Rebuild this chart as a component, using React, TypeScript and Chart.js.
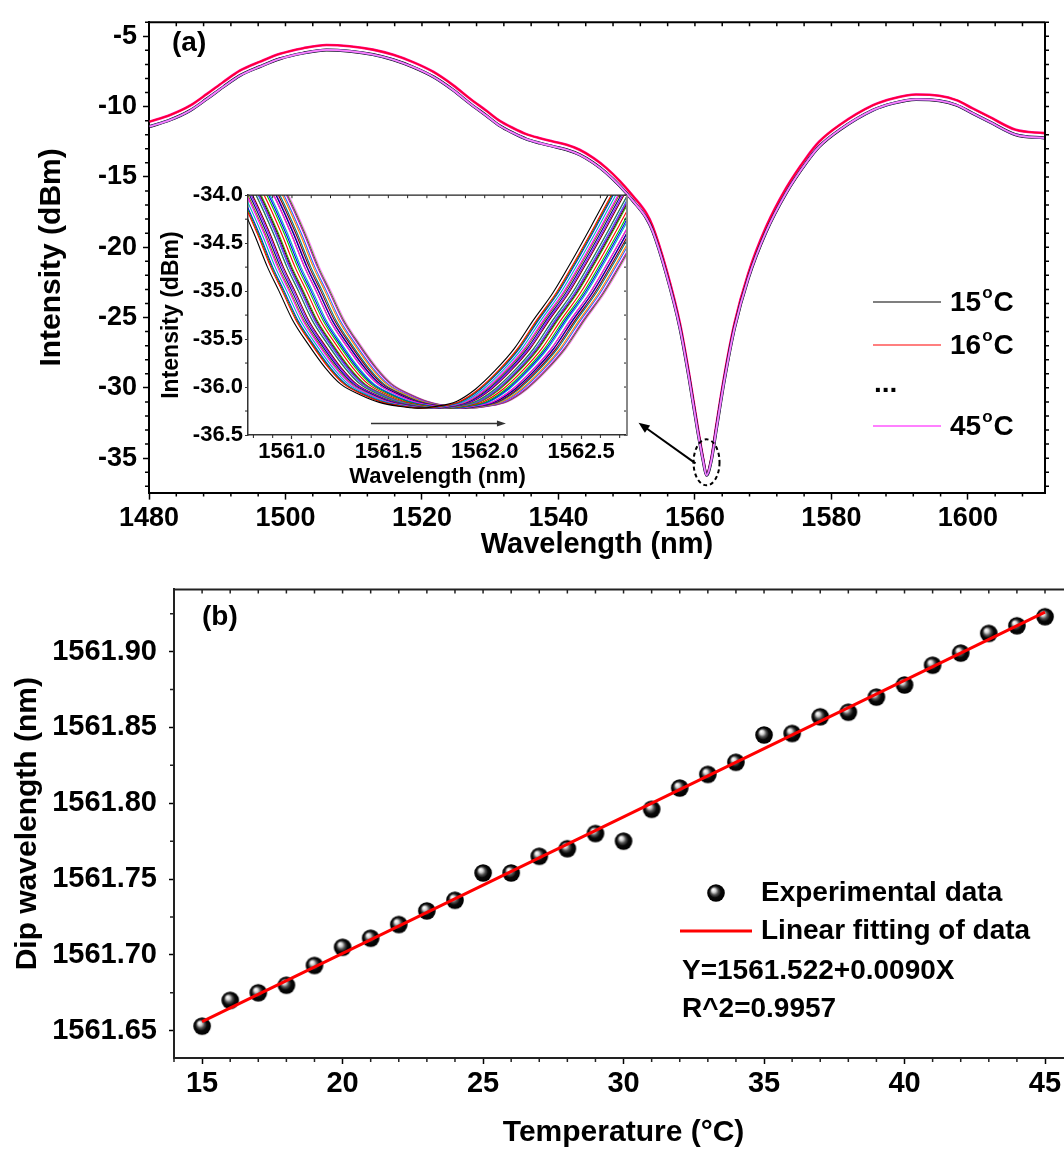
import React, { useEffect, useRef } from 'react';
import { Chart, registerables } from 'chart.js';

Chart.register(...registerables);

const FONT = '"Liberation Sans", Arial, Helvetica, sans-serif';

// ---------------- (a) main spectra ----------------
const mainWavelength = [1480.1, 1483.1, 1486.0, 1488.5, 1490.9, 1493.3, 1496.3, 1499.2, 1502.6, 1506.0, 1509.4, 1512.8, 1515.8, 1518.7, 1521.7, 1524.6, 1527.0, 1529.5, 1531.4, 1533.4, 1535.3, 1537.3, 1539.2, 1541.2, 1543.1, 1545.1, 1547.0, 1549.0, 1550.9, 1552.9, 1553.8, 1555.8, 1557.8, 1559.2, 1560.4, 1561.2, 1561.7, 1562.4, 1563.1, 1564.3, 1565.8, 1567.8, 1570.4, 1573.4, 1576.3, 1578.2, 1581.2, 1586.1, 1589.0, 1592.4, 1595.8, 1598.3, 1600.7, 1603.1, 1607.0, 1611.2];
const mainLowerDbm = [-11.42, -10.95, -10.29, -9.45, -8.60, -7.80, -7.15, -6.60, -6.20, -5.97, -6.06, -6.30, -6.67, -7.19, -7.89, -8.84, -9.77, -10.67, -11.37, -11.89, -12.31, -12.60, -12.83, -13.07, -13.42, -14.00, -14.71, -15.65, -16.70, -17.95, -18.85, -21.90, -25.76, -29.50, -33.07, -35.18, -36.22, -35.18, -33.07, -29.50, -25.76, -22.24, -18.94, -16.12, -14.00, -12.85, -11.66, -10.25, -9.77, -9.49, -9.58, -9.89, -10.48, -11.07, -12.00, -12.24];
const mainUpperDbm = [-11.07, -10.60, -9.94, -9.10, -8.25, -7.45, -6.80, -6.25, -5.85, -5.62, -5.71, -5.95, -6.32, -6.84, -7.54, -8.49, -9.42, -10.32, -11.02, -11.54, -11.96, -12.25, -12.48, -12.72, -13.07, -13.65, -14.36, -15.30, -16.35, -17.60, -18.50, -21.55, -25.41, -29.15, -32.77, -35.03, -36.17, -35.03, -32.77, -29.15, -25.41, -21.89, -18.59, -15.77, -13.65, -12.50, -11.31, -9.90, -9.42, -9.14, -9.23, -9.54, -10.13, -10.72, -11.65, -11.89];
const mainTickX = [1480, 1500, 1520, 1540, 1560, 1580, 1600];
const mainTickY = [-35, -30, -25, -20, -15, -10, -5];
const legendLabels = ['15', '16', '...', '45'];

// ---------------- temperatures / dips (b) ----------------
const temperatures = [15, 16, 17, 18, 19, 20, 21, 22, 23, 24, 25, 26, 27, 28, 29, 30, 31, 32, 33, 34, 35, 36, 37, 38, 39, 40, 41, 42, 43, 44, 45];
const dipWavelength = [1561.653, 1561.670, 1561.675, 1561.680, 1561.693, 1561.705, 1561.711, 1561.720, 1561.729, 1561.736, 1561.754, 1561.754, 1561.765, 1561.770, 1561.780, 1561.775, 1561.796, 1561.810, 1561.819, 1561.827, 1561.845, 1561.846, 1561.857, 1561.860, 1561.870, 1561.878, 1561.891, 1561.899, 1561.912, 1561.917, 1561.923];
const fitTemperature = [15, 45];
const fitWavelength = [1561.656, 1561.926];
const tempTicks = [15, 20, 25, 30, 35, 40, 45];
const dipTicks = [1561.65, 1561.70, 1561.75, 1561.80, 1561.85, 1561.90];

// ---------------- inset: dip profile around each measured dip ----------------
const insetOffsetNm = [-1.05, -0.94, -0.85, -0.78, -0.72, -0.65, -0.57, -0.48, -0.40, -0.30, -0.20, -0.10, 0.00, 0.10, 0.20, 0.30, 0.40, 0.50, 0.60, 0.70, 0.80, 0.90, 1.00, 1.10];
const insetDbm = [-33.60, -34.00, -34.40, -34.75, -35.00, -35.30, -35.55, -35.80, -35.97, -36.08, -36.16, -36.20, -36.22, -36.20, -36.15, -36.02, -35.83, -35.60, -35.30, -35.02, -34.68, -34.32, -33.95, -33.60];
const insetTickX = [1561.0, 1561.5, 1562.0, 1562.5];
const insetTickY = [-36.5, -36.0, -35.5, -35.0, -34.5, -34.0];

const insetColors = ['#000000', '#ff0000', '#00c000', '#0000ff', '#00b0c0', '#ff00ff', '#808000', '#000080', '#8000ff', '#800000', '#008080', '#ff8000', '#3060ff', '#c000c0', '#40a000', '#000000', '#ff0000', '#00c000', '#0000ff', '#00b0c0', '#ff00ff', '#808000', '#000080', '#8000ff', '#800000', '#008080', '#ff8000', '#3060ff', '#c000c0', '#40a000', '#ff80ff'];

const bold = (size: number) => ({ family: FONT, size, weight: 'bold' as const });

function makeSphere(r: number): HTMLCanvasElement {
  const c = document.createElement('canvas');
  const s = Math.ceil(2 * r + 2);
  c.width = s;
  c.height = s;
  const g = c.getContext('2d')!;
  const grad = g.createRadialGradient(s / 2 - r * 0.32, s / 2 - r * 0.38, r * 0.05, s / 2, s / 2, r);
  grad.addColorStop(0, '#ffffff');
  grad.addColorStop(0.2, '#d0d0d0');
  grad.addColorStop(0.42, '#505050');
  grad.addColorStop(0.65, '#080808');
  grad.addColorStop(1, '#000000');
  g.fillStyle = grad;
  g.beginPath();
  g.arc(s / 2, s / 2, r, 0, Math.PI * 2);
  g.fill();
  return c;
}

interface FrameOpts {
  minorX: number; minorY: number; minorLen: number; mirrorLen: number;
  tickWidth: number; color: string; topOut: boolean; rightOut: boolean;
  frameWidth: number; rightColor?: string; topWidth?: number; drawRight?: boolean;
}

function framePlugin(o: FrameOpts) {
  return {
    id: 'frameTicks',
    afterDraw(chart: any) {
      const { ctx, chartArea: a } = chart;
      const xs = chart.scales.x;
      const ys = chart.scales.y;
      const isMajor = (sc: any, v: number) => sc.ticks.some((t: any) => Math.abs(t.value - v) < 1e-6);
      ctx.save();
      ctx.lineWidth = o.tickWidth;
      ctx.strokeStyle = o.color;
      ctx.beginPath();
      const nx0 = Math.ceil(xs.min / o.minorX - 1e-6);
      const nx1 = Math.floor(xs.max / o.minorX + 1e-6);
      for (let n = nx0; n <= nx1; n++) {
        const v = n * o.minorX;
        const p = xs.getPixelForValue(v);
        if (!isMajor(xs, v)) {
          ctx.moveTo(p, a.bottom);
          ctx.lineTo(p, a.bottom + o.minorLen);
        }
        ctx.moveTo(p, a.top);
        ctx.lineTo(p, a.top + (o.topOut ? -o.mirrorLen : o.mirrorLen));
      }
      const ny0 = Math.ceil(ys.min / o.minorY - 1e-6);
      const ny1 = Math.floor(ys.max / o.minorY + 1e-6);
      for (let n = ny0; n <= ny1; n++) {
        const v = n * o.minorY;
        const p = ys.getPixelForValue(v);
        if (!isMajor(ys, v)) {
          ctx.moveTo(a.left, p);
          ctx.lineTo(a.left - o.minorLen, p);
        }
        if (o.drawRight !== false) {
          ctx.moveTo(a.right, p);
          ctx.lineTo(a.right + (o.rightOut ? o.mirrorLen : -o.mirrorLen), p);
        }
      }
      ctx.stroke();
      ctx.lineWidth = o.topWidth ?? o.frameWidth;
      ctx.strokeStyle = o.color;
      ctx.beginPath();
      ctx.moveTo(a.left, a.top);
      ctx.lineTo(a.right, a.top);
      ctx.stroke();
      if (o.drawRight !== false) {
        ctx.lineWidth = o.frameWidth;
        ctx.strokeStyle = o.rightColor ?? o.color;
        ctx.beginPath();
        ctx.moveTo(a.right, a.top);
        ctx.lineTo(a.right, a.bottom);
        ctx.stroke();
      }
      ctx.restore();
    },
  };
}

function drawArrow(ctx: CanvasRenderingContext2D, x0: number, y0: number, x1: number, y1: number, head: number, half: number, color: string, width: number) {
  const ang = Math.atan2(y1 - y0, x1 - x0);
  ctx.save();
  ctx.strokeStyle = color;
  ctx.fillStyle = color;
  ctx.lineWidth = width;
  ctx.beginPath();
  ctx.moveTo(x0, y0);
  ctx.lineTo(x1 - Math.cos(ang) * head * 0.6, y1 - Math.sin(ang) * head * 0.6);
  ctx.stroke();
  ctx.beginPath();
  ctx.moveTo(x1, y1);
  ctx.lineTo(x1 - Math.cos(ang) * head - Math.sin(ang) * half, y1 - Math.sin(ang) * head + Math.cos(ang) * half);
  ctx.lineTo(x1 - Math.cos(ang) * head + Math.sin(ang) * half, y1 - Math.sin(ang) * head - Math.cos(ang) * half);
  ctx.closePath();
  ctx.fill();
  ctx.restore();
}

function drawDegree(ctx: CanvasRenderingContext2D, num: string, x: number, y: number) {
  ctx.font = `bold 28px ${FONT}`;
  ctx.fillText(num, x, y);
  const w = ctx.measureText(num).width;
  ctx.font = `bold 17px ${FONT}`;
  ctx.fillText('o', x + w + 1, y - 10);
  const w2 = ctx.measureText('o').width;
  ctx.font = `bold 28px ${FONT}`;
  ctx.fillText('C', x + w + w2 + 2, y);
}

const pts = (xs: number[], ys: number[]) => xs.map((x, i) => ({ x, y: ys[i] }));

export default function App() {
  const aRef = useRef<HTMLCanvasElement>(null);
  const iRef = useRef<HTMLCanvasElement>(null);
  const bRef = useRef<HTMLCanvasElement>(null);

  useEffect(() => {
    const charts: Chart[] = [];
    const sphere = makeSphere(8.8);

    // ---------- chart (a) ----------
    const annA = {
      id: 'annA',
      afterDraw(chart: any) {
        const { ctx } = chart;
        const xs = chart.scales.x;
        const ys = chart.scales.y;
        ctx.save();
        ctx.fillStyle = '#000';
        ctx.textAlign = 'left';
        ctx.textBaseline = 'middle';
        ctx.font = `bold 28px ${FONT}`;
        ctx.fillText('(a)', 172, 43);
        const cx = xs.getPixelForValue(1561.7);
        const cy = ys.getPixelForValue(-35.3);
        ctx.setLineDash([4, 3]);
        ctx.lineWidth = 2;
        ctx.strokeStyle = '#000';
        ctx.beginPath();
        ctx.ellipse(cx, cy, 13, 23, 0, 0, Math.PI * 2);
        ctx.stroke();
        ctx.setLineDash([]);
        drawArrow(ctx, xs.getPixelForValue(1560.09), ys.getPixelForValue(-35.37), xs.getPixelForValue(1551.74), ys.getPixelForValue(-32.48), 11, 4.5, '#000', 2);
        const rows = [
          { y: 302, color: '#000000', w: 1.2 },
          { y: 345, color: '#ff0000', w: 1.2 },
          { y: 390, color: '', w: 0 },
          { y: 426, color: '#ff80ff', w: 2 },
        ];
        rows.forEach((r, i) => {
          const lab = legendLabels[i];
          if (lab === '...') {
            ctx.font = `bold 28px ${FONT}`;
            ctx.fillText('...', 874, r.y - 6);
            return;
          }
          ctx.strokeStyle = r.color;
          ctx.lineWidth = r.w;
          ctx.beginPath();
          ctx.moveTo(873, r.y);
          ctx.lineTo(941, r.y);
          ctx.stroke();
          drawDegree(ctx, lab, 950, r.y + 1);
        });
        ctx.restore();
      },
    };

    const lower = pts(mainWavelength, mainLowerDbm);
    const upper = pts(mainWavelength, mainUpperDbm);
    const ca = new Chart(aRef.current!, {
      type: 'line',
      data: {
        datasets: [
          { label: `${temperatures[30]}°C`, data: lower.map((p) => ({ ...p })), borderColor: '#ff80ff', borderWidth: 1.6 },
          { label: `${temperatures[15]}°C`, data: lower.map((p) => ({ ...p })), borderColor: '#7050c0', borderWidth: 2.3 },
          { label: `${temperatures[0]}°C`, data: lower.map((p) => ({ ...p })), borderColor: '#000000', borderWidth: 3.0 },
          { label: `${temperatures[1]}°C`, data: upper.map((p) => ({ ...p })), borderColor: '#ff0030', borderWidth: 1.6 },
          { label: `${temperatures[2]}°C`, data: upper.map((p) => ({ ...p })), borderColor: '#ff00a0', borderWidth: 2.6 },
        ],
      },
      options: {
        responsive: false,
        animation: false,
        devicePixelRatio: 1,
        layout: { padding: { left: 0, top: 18, right: 19, bottom: 0 } },
        plugins: { legend: { display: false }, tooltip: { enabled: false } },
        elements: { point: { radius: 0 }, line: { cubicInterpolationMode: 'monotone' } },
        scales: {
          x: {
            type: 'linear', min: 1480, max: 1611.3,
            afterBuildTicks: (s: any) => { s.ticks = mainTickX.map((v) => ({ value: v })); },
            afterFit: (s: any) => { s.height = 565 - 492.6; },
            grid: { display: true, drawOnChartArea: false, drawTicks: true, tickLength: 7, tickColor: '#000', tickWidth: 1.5 },
            border: { display: true, color: '#000', width: 2 },
            ticks: { font: bold(27), color: '#000', padding: 3, maxRotation: 0, minRotation: 0, autoSkip: false, callback: (v: any) => String(v) },
            title: { display: true, text: 'Wavelength (nm)', font: bold(29), color: '#000', padding: { top: 0, bottom: 2.6 } },
          },
          y: {
            type: 'linear', min: -37.45, max: -4,
            afterBuildTicks: (s: any) => { s.ticks = mainTickY.map((v) => ({ value: v })); },
            afterFit: (s: any) => { s.width = 149; },
            grid: { display: true, drawOnChartArea: false, drawTicks: true, tickLength: 6, tickColor: '#000', tickWidth: 1.5 },
            border: { display: true, color: '#000', width: 2 },
            ticks: { font: bold(27), color: '#000', padding: 6, autoSkip: false, callback: (v: any) => String(v) },
            title: { display: true, text: 'Intensity (dBm)', font: bold(30), color: '#000', padding: { top: 34, bottom: 0 } },
          },
        },
      } as any,
      plugins: [framePlugin({ minorX: 4, minorY: 1, minorLen: 4, mirrorLen: 4, tickWidth: 1.5, color: '#000', topOut: false, rightOut: true, frameWidth: 2 }), annA],
    });
    charts.push(ca);

    // ---------- inset ----------
    const annI = {
      id: 'annI',
      afterDraw(chart: any) {
        const xs = chart.scales.x;
        const ys = chart.scales.y;
        drawArrow(chart.ctx, xs.getPixelForValue(1561.41), ys.getPixelForValue(-36.38), xs.getPixelForValue(1562.11), ys.getPixelForValue(-36.38), 9, 3, '#333', 1.5);
      },
    };
    const ci = new Chart(iRef.current!, {
      type: 'line',
      data: {
        datasets: temperatures.map((t, i) => ({
          label: `${t}°C`,
          data: insetOffsetNm.map((d, k) => ({ x: dipWavelength[i] + d, y: insetDbm[k] })),
          borderColor: insetColors[i],
          borderWidth: 1.1,
        })),
      },
      options: {
        responsive: false,
        animation: false,
        devicePixelRatio: 1,
        layout: { padding: { left: 0, top: 13, right: 23, bottom: 0 } },
        plugins: { legend: { display: false }, tooltip: { enabled: false } },
        elements: { point: { radius: 0 }, line: { cubicInterpolationMode: 'monotone' } },
        scales: {
          x: {
            type: 'linear', min: 1560.772, max: 1562.738,
            afterBuildTicks: (s: any) => { s.ticks = insetTickX.map((v) => ({ value: v })); },
            afterFit: (s: any) => { s.height = 55; },
            grid: { display: true, drawOnChartArea: false, drawTicks: true, tickLength: 4, tickColor: '#333', tickWidth: 1.2 },
            border: { display: true, color: '#333', width: 1.5 },
            ticks: { font: bold(22), color: '#000', padding: 0, maxRotation: 0, minRotation: 0, autoSkip: false, callback: (v: any) => Number(v).toFixed(1) },
            title: { display: true, text: 'Wavelength (nm)', font: bold(22), color: '#000', padding: { top: 0, bottom: 0 } },
          },
          y: {
            type: 'linear', min: -36.5, max: -34.0,
            afterBuildTicks: (s: any) => { s.ticks = insetTickY.map((v) => ({ value: v })); },
            afterFit: (s: any) => { s.width = 98; },
            grid: { display: true, drawOnChartArea: false, drawTicks: true, tickLength: 3, tickColor: '#333', tickWidth: 1.2 },
            border: { display: true, color: '#333', width: 1.5 },
            ticks: { font: bold(22), color: '#000', padding: 2, autoSkip: false, callback: (v: any) => Number(v).toFixed(1) },
            title: { display: true, text: 'Intensity (dBm)', font: bold(23), color: '#000', padding: { top: 8, bottom: 0 } },
          },
        },
      } as any,
      plugins: [framePlugin({ minorX: 0.1, minorY: 0.25, minorLen: 3, mirrorLen: 3, tickWidth: 1, color: '#222', topOut: false, rightOut: false, frameWidth: 2, rightColor: '#888', topWidth: 1.2 }), annI],
    });
    charts.push(ci);

    // ---------- chart (b) ----------
    const annB = {
      id: 'annB',
      afterDraw(chart: any) {
        const { ctx } = chart;
        const off = 560;
        ctx.save();
        ctx.fillStyle = '#000';
        ctx.textAlign = 'left';
        ctx.textBaseline = 'middle';
        ctx.font = `bold 28px ${FONT}`;
        ctx.fillText('(b)', 202, 617 - off);
        ctx.drawImage(sphere, 716 - sphere.width / 2, 893 - off - sphere.height / 2);
        ctx.fillText('Experimental data', 761, 893 - off);
        ctx.strokeStyle = '#ff0000';
        ctx.lineWidth = 3;
        ctx.beginPath();
        ctx.moveTo(680, 931 - off);
        ctx.lineTo(752, 931 - off);
        ctx.stroke();
        ctx.fillText('Linear fitting of data', 761, 931 - off);
        ctx.fillText('Y=1561.522+0.0090X', 682, 971 - off);
        ctx.fillText('R^2=0.9957', 682, 1009 - off);
        ctx.restore();
      },
    };
    const cb = new Chart(bRef.current!, {
      type: 'line',
      data: {
        datasets: [
          {
            label: 'Linear fitting of data',
            data: pts(fitTemperature, fitWavelength),
            borderColor: '#ff0000',
            borderWidth: 3,
            pointRadius: 0,
          },
          {
            label: 'Experimental data',
            data: pts(temperatures, dipWavelength),
            showLine: false,
            pointStyle: sphere as any,
            pointRadius: 8.8,
          },
        ],
      },
      options: {
        responsive: false,
        animation: false,
        devicePixelRatio: 1,
        layout: { padding: { left: 0, top: 24, right: 36.9, bottom: 0 } },
        plugins: { legend: { display: false }, tooltip: { enabled: false } },
        scales: {
          x: {
            type: 'linear', min: 14, max: 46,
            afterBuildTicks: (s: any) => { s.ticks = tempTicks.map((v) => ({ value: v })); },
            afterFit: (s: any) => { s.height = 93; },
            grid: { display: true, drawOnChartArea: false, drawTicks: true, tickLength: 6, tickColor: '#000', tickWidth: 1.5 },
            border: { display: true, color: '#222', width: 2 },
            ticks: { font: bold(29), color: '#000', padding: 3, maxRotation: 0, minRotation: 0, autoSkip: false, callback: (v: any) => String(v) },
            title: { display: true, text: 'Temperature (°C)', font: bold(30), color: '#000', padding: { top: 0, bottom: 0 } },
          },
          y: {
            type: 'linear', min: 1561.632, max: 1561.941,
            afterBuildTicks: (s: any) => { s.ticks = dipTicks.map((v) => ({ value: v })); },
            afterFit: (s: any) => { s.width = 174; },
            grid: { display: true, drawOnChartArea: false, drawTicks: true, tickLength: 5, tickColor: '#000', tickWidth: 1.5 },
            border: { display: true, color: '#222', width: 2 },
            ticks: { font: bold(29), color: '#000', padding: 12, autoSkip: false, callback: (v: any) => Number(v).toFixed(2) },
            title: { display: true, text: 'Dip wavelength (nm)', font: bold(30), color: '#000', padding: { top: 10, bottom: 0 } },
          },
        },
      } as any,
      plugins: [framePlugin({ minorX: 1, minorY: 0.025, minorLen: 4, mirrorLen: 4, tickWidth: 1.5, color: '#222', topOut: false, rightOut: false, frameWidth: 2, drawRight: false }), annB],
    });
    charts.push(cb);

    return () => charts.forEach((c) => c.destroy());
  }, []);

  return (
    <div style={{ position: 'fixed', left: 0, top: 0, width: 1064, height: 1151, overflow: 'hidden', background: '#fff' }}>
      <canvas ref={aRef} width={1064} height={565} style={{ position: 'absolute', left: 0, top: 0, width: 1064, height: 565 }} />
      <canvas ref={bRef} width={1110} height={591} style={{ position: 'absolute', left: 0, top: 560, width: 1110, height: 591 }} />
      <canvas ref={iRef} width={500} height={310} style={{ position: 'absolute', left: 150, top: 180, width: 500, height: 310 }} />
    </div>
  );
}
